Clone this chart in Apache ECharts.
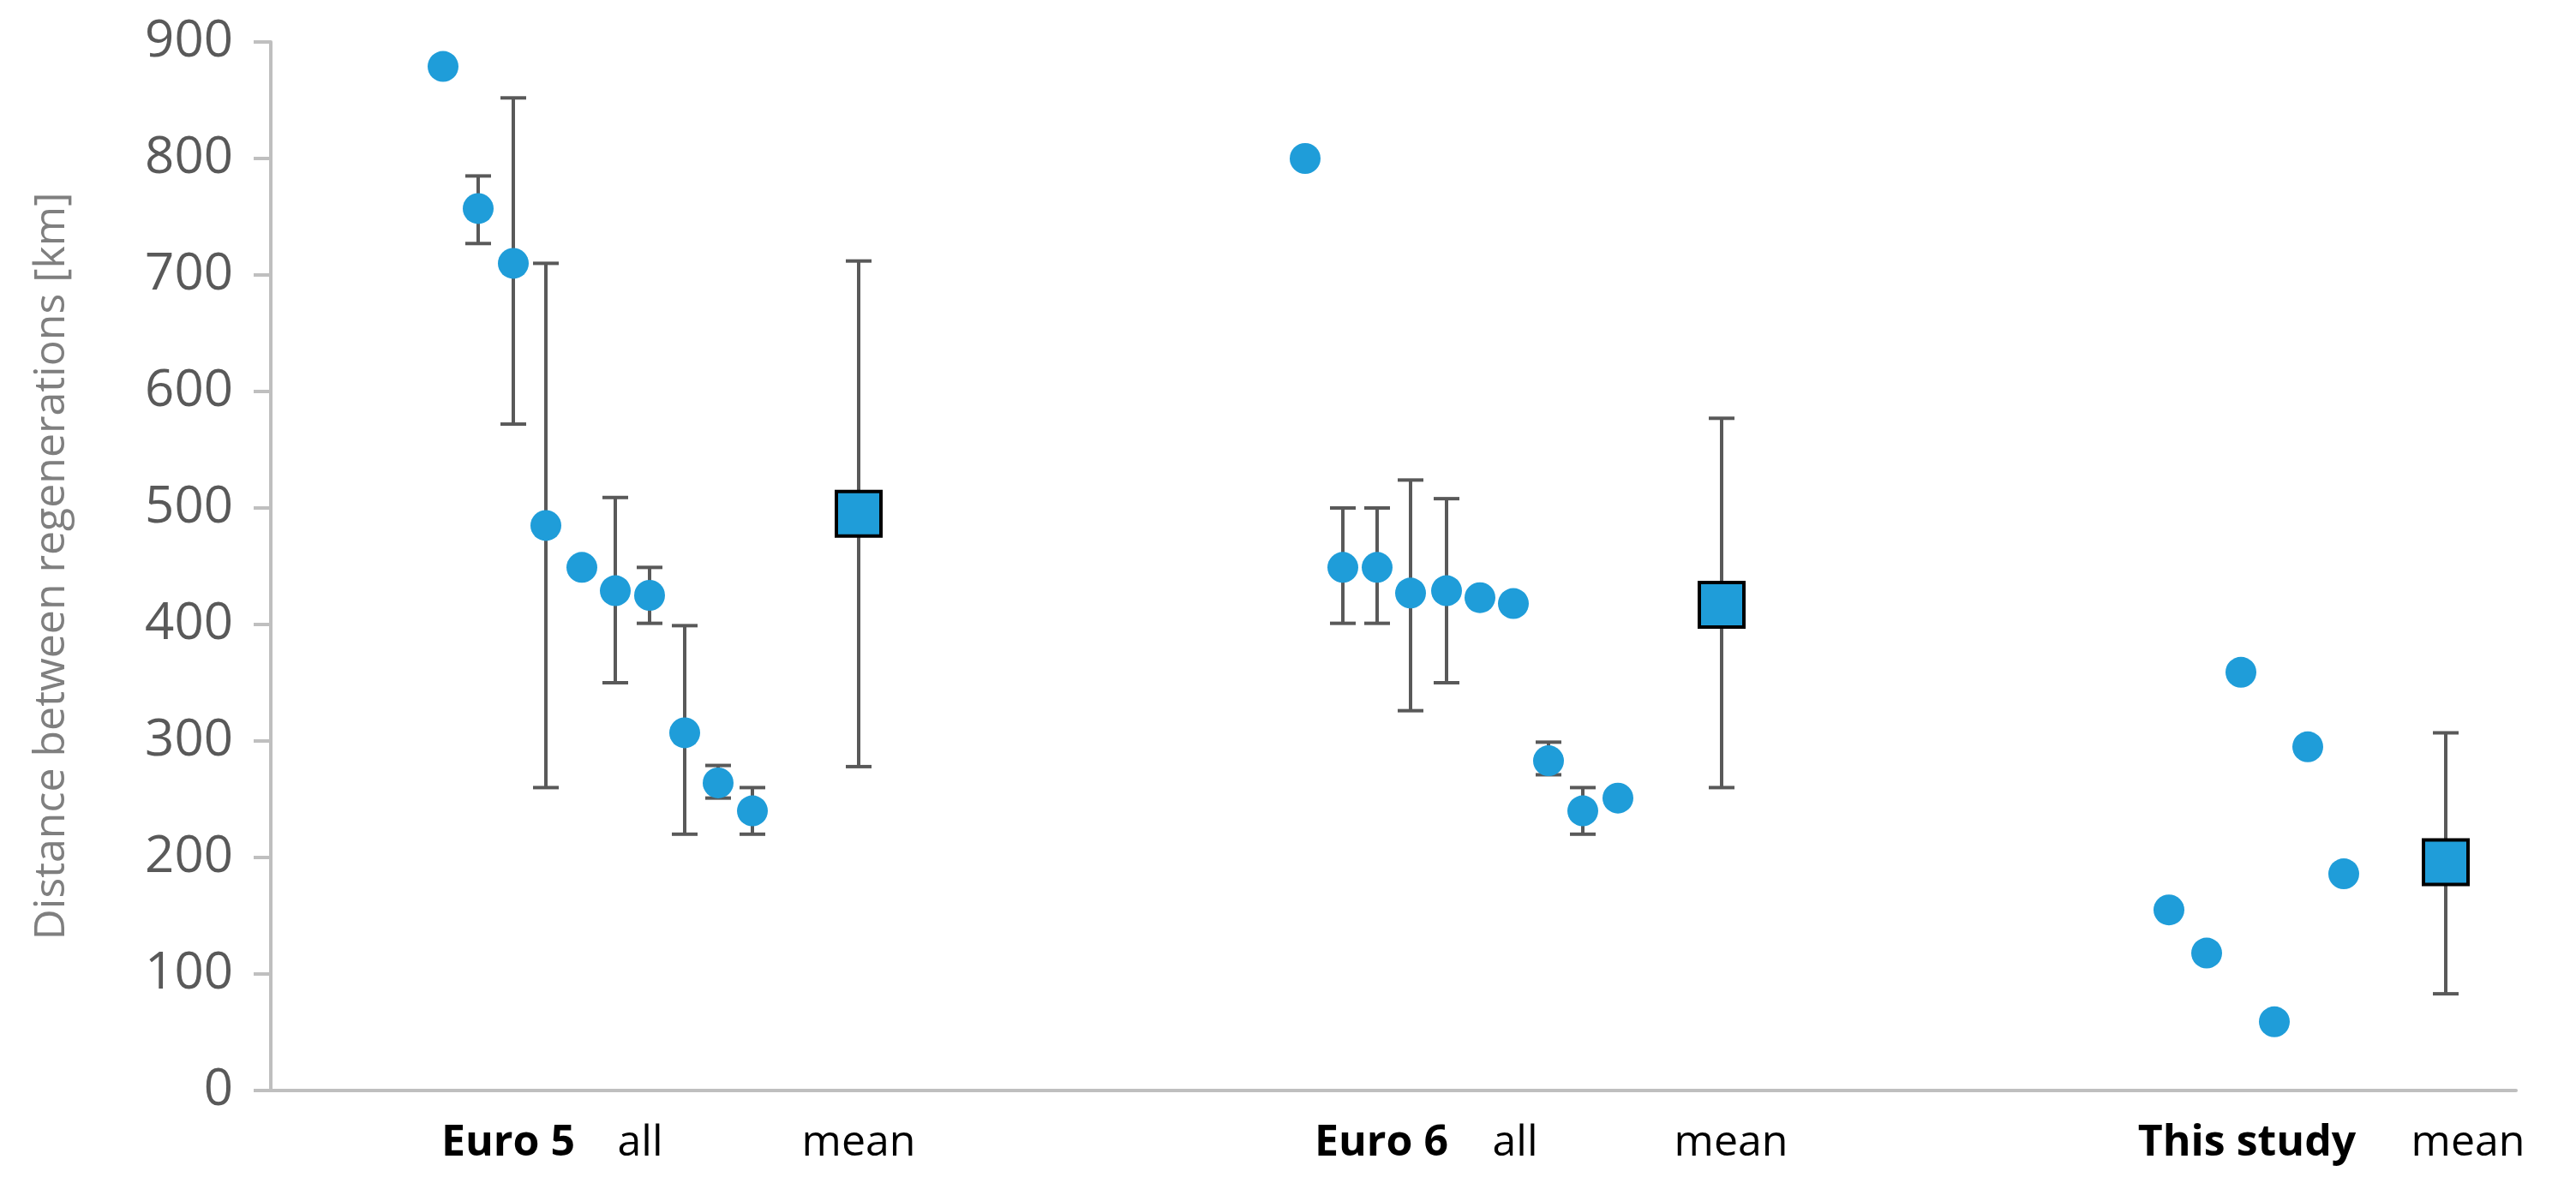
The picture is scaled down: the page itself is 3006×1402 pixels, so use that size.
<!DOCTYPE html>
<html><head><meta charset="utf-8">
<script src="https://cdn.jsdelivr.net/npm/echarts@6/dist/echarts.min.js"></script>
<style>html,body{margin:0;background:#fff}#c{width:3006px;height:1402px}</style>
</head><body><div id="c"></div>
<script>
// positions along a hidden horizontal value axis, values in km
const euro5X = [517,558,599,637,679,718,758,799,838,878];
const euro5Y = [879,757,710,485,449,429,425,307,264,240];
const euro5Lo = [null,727,572,260,null,350,401,220,251,220];
const euro5Hi = [null,785,852,710,null,509,449,399,279,260];
const euro6X = [1523,1567,1607,1646,1688,1727,1766,1807,1847,1888];
const euro6Y = [800,449,449,427,429,423,418,283,240,251];
const euro6Lo = [null,401,401,326,350,null,null,271,220,null];
const euro6Hi = [null,500,500,524,508,null,null,299,260,null];
const studyX = [2531,2575,2615,2654,2693,2735];
const studyY = [155,118,359,59,295,186];
const meanX = [1002,2009,2854];
const meanY = [495,417,196];
const meanLo = [278,260,83];
const meanHi = [712,577,307];
const yTicks = [0,100,200,300,400,500,600,700,800,900];
const catLabels = [
  {x:593,text:'Euro 5',bold:true},{x:747,text:'all'},{x:1002,text:'mean'},
  {x:1612,text:'Euro 6',bold:true},{x:1768,text:'all'},{x:2020,text:'mean'},
  {x:2622,text:'This study',bold:true},{x:2880,text:'mean'}
];

const pts = [];
[[euro5X,euro5Y],[euro6X,euro6Y],[studyX,studyY]].forEach(([xs,ys])=>xs.forEach((x,i)=>pts.push([x,ys[i]])));
const errs = [];
[[euro5X,euro5Y,euro5Lo,euro5Hi],[euro6X,euro6Y,euro6Lo,euro6Hi],[meanX,meanY,meanLo,meanHi]].forEach(([xs,ys,lo,hi])=>
  xs.forEach((x,i)=>{ if(lo[i]!=null) errs.push([x,lo[i],hi[i]]); }));

const chart = echarts.init(document.getElementById('c'));
const font = '"Open Sans", sans-serif';
chart.setOption({
  animation:false,
  grid:{left:316,right:70,top:49,bottom:129},
  xAxis:{type:'value',min:316,max:2936,axisLabel:{show:false},axisTick:{show:false},splitLine:{show:false},
    axisLine:{show:true,lineStyle:{color:'#bfbfbf',width:4}}},
  yAxis:{type:'value',min:0,max:900,interval:100,splitLine:{show:false},
    axisLine:{show:true,lineStyle:{color:'#bfbfbf',width:4}},
    axisTick:{show:true,length:20,lineStyle:{color:'#bfbfbf',width:4}},
    axisLabel:{color:'#595959',fontSize:60,fontFamily:font,margin:44,
      formatter:v=>yTicks.includes(v)?String(v):''},
    name:'Distance between regenerations [km]',nameLocation:'middle',nameGap:230,
    nameTextStyle:{color:'#7f7f7f',fontSize:50,fontFamily:font}},
  series:[
    {type:'custom',data:errs,z:2,renderItem:(params,api)=>{
      const x=api.value(0);const lo=api.coord([x,api.value(1)]);const hi=api.coord([x,api.value(2)]);
      const w=15;const st={stroke:'#595959',lineWidth:4};
      return {type:'group',children:[
        {type:'line',shape:{x1:lo[0],y1:lo[1],x2:hi[0],y2:hi[1]},style:st},
        {type:'line',shape:{x1:lo[0]-w,y1:lo[1],x2:lo[0]+w,y2:lo[1]},style:st},
        {type:'line',shape:{x1:hi[0]-w,y1:hi[1],x2:hi[0]+w,y2:hi[1]},style:st}]};
    }},
    {type:'scatter',data:pts,symbol:'circle',symbolSize:36,z:3,itemStyle:{color:'#1f9dd9',opacity:1}},
    {type:'scatter',data:meanX.map((x,i)=>[x,meanY[i]]),symbol:'rect',symbolSize:52,z:4,
      itemStyle:{color:'#1f9dd9',borderColor:'#000',borderWidth:4,opacity:1}}
  ]
});
const labelY = chart.convertToPixel({gridIndex:0},[316,0])[1] + 62;
chart.setOption({graphic:catLabels.map(l=>({type:'text',x:chart.convertToPixel({gridIndex:0},[l.x,0])[0],y:labelY,
  style:{text:l.text,fill:'#000',font:(l.bold?'bold ':'')+'50px "Open Sans", sans-serif',textAlign:'center',textVerticalAlign:'middle'}}))});
</script></body></html>
